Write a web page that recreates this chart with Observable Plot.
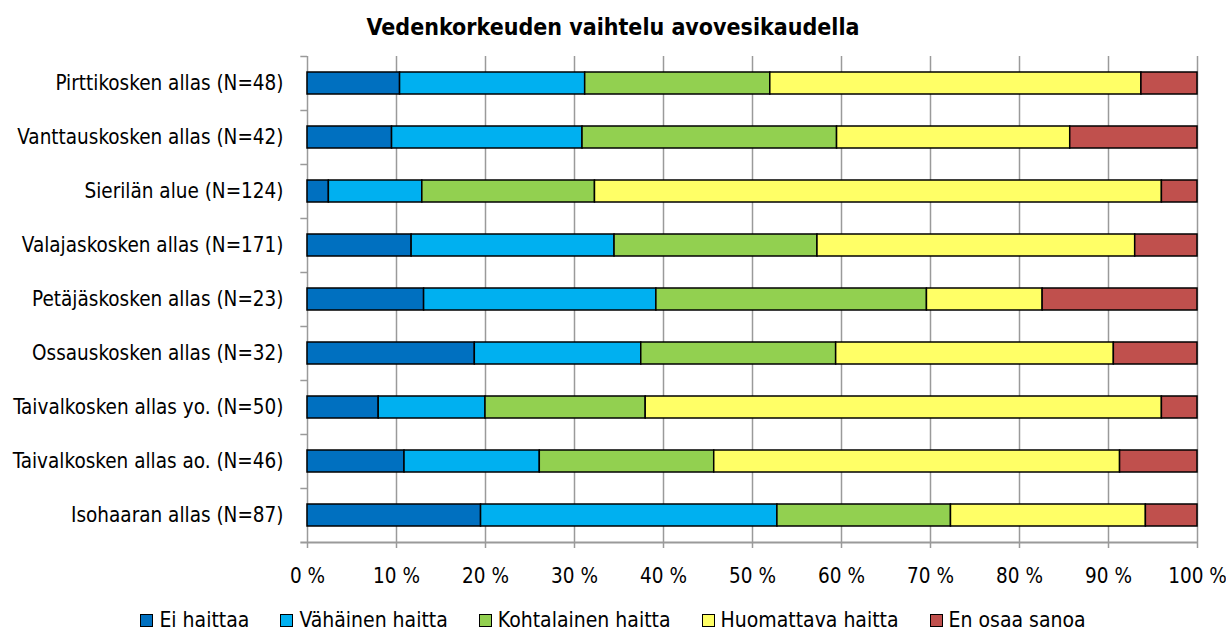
<!DOCTYPE html>
<html>
<head>
<meta charset="utf-8">
<script src="https://cdn.jsdelivr.net/npm/d3@7"></script>
<script src="https://cdn.jsdelivr.net/npm/@observablehq/plot@0.6"></script>
<style>
  html, body { margin: 0; padding: 0; background: #fff; }
  #wrap { position: relative; width: 1226px; height: 632px; font-family: "DejaVu Sans Condensed", "DejaVu Sans", sans-serif; font-stretch: condensed; color: #000; }
  #title { position: absolute; left: 0; top: 0; width: 1226px; height: 54px; line-height: 54px; text-align: center; font-weight: bold; font-size: 23px; font-stretch: condensed; }
  #chart { position: absolute; left: 0; top: 0; }
  #chart text { font-stretch: condensed; }
  #legend { position: absolute; left: 0; top: 606px; width: 1226px; height: 28px; display: flex; justify-content: center; align-items: center; gap: 31px; font-size: 21px; font-stretch: condensed; }
  .item { display: flex; align-items: center; }
  .sw { width: 11px; height: 11px; border: 1.5px solid #000; margin-right: 6px; }
</style>
</head>
<body>
<div id="wrap">
  <div id="chart"></div>
  <div id="title">Vedenkorkeuden vaihtelu avovesikaudella</div>
  <div id="legend"></div>
</div>
<script>
// Categories (top to bottom)
const sites = [
  "Pirttikosken allas (N=48)",
  "Vanttauskosken allas (N=42)",
  "Sierilän alue (N=124)",
  "Valajaskosken allas (N=171)",
  "Petäjäskosken allas (N=23)",
  "Ossauskosken allas (N=32)",
  "Taivalkosken allas yo. (N=50)",
  "Taivalkosken allas ao. (N=46)",
  "Isohaaran allas (N=87)"
];
// Series names
const seriesNames = ["Ei haittaa", "Vähäinen haitta", "Kohtalainen haitta", "Huomattava haitta", "En osaa sanoa"];
// Series values (% of respondents), in the order of sites
const eiHaittaa         = [10.4,  9.5,  2.4, 11.7, 13.1, 18.8,  8.0, 10.9, 19.5];
const vahainenHaitta    = [20.8, 21.4, 10.5, 22.8, 26.1, 18.7, 12.0, 15.2, 33.3];
const kohtalainenHaitta = [20.8, 28.6, 19.4, 22.8, 30.4, 21.9, 18.0, 19.6, 19.5];
const huomattavaHaitta  = [41.7, 26.2, 63.7, 35.7, 13.0, 31.2, 58.0, 45.6, 21.9];
const enOsaaSanoa       = [ 6.3, 14.3,  4.0,  7.0, 17.4,  9.4,  4.0,  8.7,  5.8];
// Tick values for x axis
const xTicks = [0, 10, 20, 30, 40, 50, 60, 70, 80, 90, 100];
const colors = ["#0070C0", "#00B0F0", "#92D050", "#FFFF66", "#C0504D"];

const seriesValues = [eiHaittaa, vahainenHaitta, kohtalainenHaitta, huomattavaHaitta, enOsaaSanoa];
const data = [];
sites.forEach((site, i) => {
  seriesNames.forEach((s, j) => {
    data.push({site, series: s, value: seriesValues[j][i]});
  });
});

const gridColor = "#9a9a9a";
const chart = Plot.plot({
  width: 1226,
  height: 632,
  marginTop: 56,
  marginBottom: 90,
  marginLeft: 307,
  marginRight: 29,
  style: {
    fontFamily: '"DejaVu Sans Condensed", "DejaVu Sans", sans-serif',
    fontSize: "20.5px",
    color: "#000",
    background: "transparent",
    overflow: "visible"
  },
  x: { domain: [0, 100], label: null },
  y: { type: "band", domain: sites, paddingInner: 0.59, paddingOuter: 0.295, label: null },
  color: { domain: seriesNames, range: colors },
  marks: [
    Plot.ruleX(xTicks, { stroke: gridColor, strokeWidth: 1.5 }),
    Plot.barX(data, Plot.stackX({
      x: "value", y: "site", fill: "series", order: seriesNames,
      stroke: "#000", strokeWidth: 1.5
    })),
    // y-axis boundary ticks
    Plot.ruleY(sites, { x1: -0.75, x2: 0, dy: -27, stroke: gridColor, strokeWidth: 1.5 }),
    // bottom axis line and last boundary tick
    Plot.ruleY([sites[sites.length - 1]], { x1: -0.75, x2: 100, dy: 27, stroke: gridColor, strokeWidth: 2 }),
    Plot.axisY({ tickSize: 0, tickPadding: 24, fontSize: 20.5, label: null }),
    Plot.axisX({ ticks: xTicks, tickSize: 6, tickPadding: 20, tickFormat: d => d + " %", stroke: gridColor, strokeWidth: 1.5, fontSize: 20.5, label: null })
  ]
});
document.getElementById("chart").appendChild(chart);

const legend = document.getElementById("legend");
seriesNames.forEach((s, i) => {
  const item = document.createElement("div");
  item.className = "item";
  const sw = document.createElement("span");
  sw.className = "sw";
  sw.style.background = colors[i];
  const t = document.createElement("span");
  t.textContent = s;
  item.appendChild(sw);
  item.appendChild(t);
  legend.appendChild(item);
});
</script>
</body>
</html>
